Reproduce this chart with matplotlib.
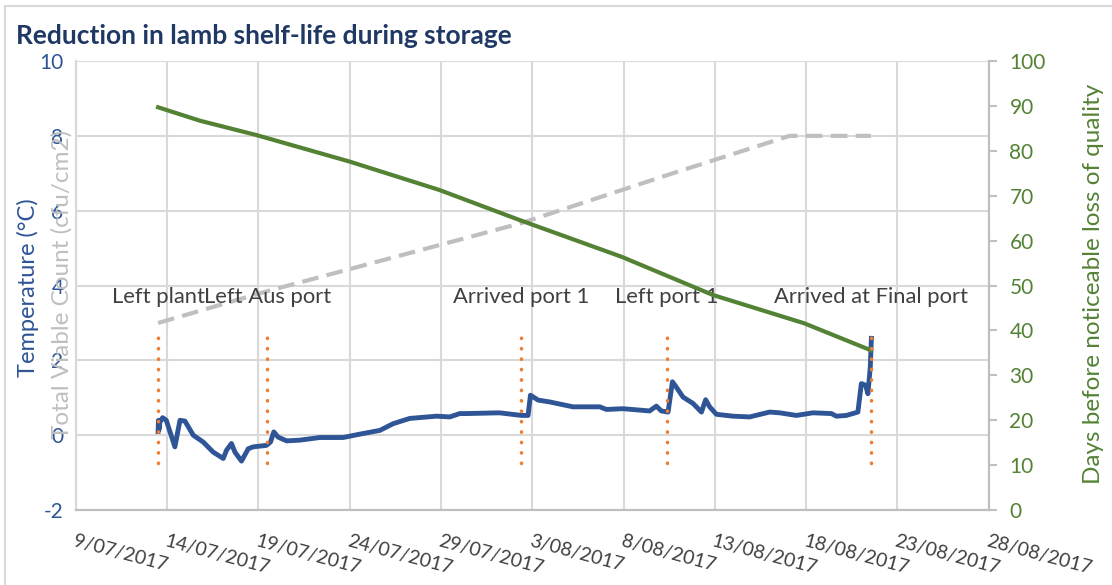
import datetime as dt

import matplotlib
matplotlib.use("Agg")
import matplotlib.pyplot as plt
from matplotlib import ticker
import matplotlib.dates as mdates
from matplotlib.lines import Line2D

START = dt.datetime(2017, 7, 9)

# temperature logger trace (days after 9/07/2017, degC)
temp_days = [4.50, 4.52, 4.55, 4.60, 4.75, 4.95, 5.42, 5.70, 5.97, 6.43,
             6.97, 7.52, 8.07, 8.25, 8.52, 8.71, 9.07, 9.44, 9.71, 10.44,
             10.66, 10.84, 11.08, 11.54, 12.27, 13.36, 14.64, 15.55, 16.65, 17.38,
             18.29, 19.75, 20.48, 21.03, 21.40, 23.20, 24.41, 24.77, 24.90, 25.32,
             25.96, 27.23, 28.70, 29.06, 29.97, 31.43, 31.80, 32.07, 32.44, 32.68,
             32.90, 33.26, 33.81, 34.27, 34.50, 34.72, 35.09, 36.00, 36.91, 38.00,
             38.55, 39.47, 40.38, 41.39, 41.66, 42.21, 42.84, 43.03, 43.26, 43.39,
             43.52, 43.58]
temp_vals = [0.10, 0.40, 0.15, 0.35, 0.47, 0.40, -0.31, 0.40, 0.38, 0.00,
             -0.18, -0.45, -0.62, -0.40, -0.22, -0.45, -0.69, -0.36, -0.31, -0.27,
             -0.18, 0.09, -0.05, -0.15, -0.13, -0.06, -0.06, 0.03, 0.13, 0.31,
             0.45, 0.51, 0.49, 0.58, 0.58, 0.60, 0.53, 0.53, 1.07, 0.94,
             0.89, 0.76, 0.76, 0.69, 0.71, 0.65, 0.78, 0.65, 0.62, 1.43,
             1.28, 1.02, 0.85, 0.62, 0.95, 0.76, 0.56, 0.51, 0.49, 0.62,
             0.60, 0.53, 0.60, 0.58, 0.51, 0.53, 0.62, 1.38, 1.34, 1.11,
             1.83, 2.59]

# total viable count (drawn against the left scale)
tvc_days = [4.50, 10.48, 24.41, 32.38, 39.10, 43.55]
tvc_vals = [3.00, 3.85, 5.67, 6.95, 8.00, 8.00]

# days before noticeable loss of quality (right scale)
shelf_days = [4.50, 6.80, 9.90, 15.0, 19.9, 24.3, 29.9, 34.9, 39.9, 43.55]
shelf_vals = [89.7, 86.7, 83.5, 77.6, 71.3, 64.6, 56.4, 47.9, 41.6, 35.6]

event_days = [4.50, 10.48, 24.41, 32.38, 43.58]
event_names = ["Left plant", "Left Aus port", "Arrived port 1", "Left port 1",
               "Arrived at Final port"]
event_low, event_high = -0.75, 2.85
tick_days = list(range(0, 51, 5))

BLUE = "#2F5597"
GREEN = "#548235"
GREY = "#BFBFBF"
ORANGE = "#ED7D31"
GRID = "#D9D9D9"
TEXT = "#404040"
FONT = "Lato"


def to_dates(days):
    return [START + dt.timedelta(days=d) for d in days]


def fmt_date(x, pos):
    d = mdates.num2date(x)
    return f"{d.day}/{d.month:02d}/{d.year}"


plt.rcParams["font.family"] = FONT
plt.rcParams["axes.unicode_minus"] = False

fig = plt.figure(figsize=(11.12, 5.85), dpi=100)
ax = fig.add_axes([0.0683, 0.128, 0.8207, 0.7677])
ax2 = ax.twinx()

# grid + axes
ax.set_xlim(START, START + dt.timedelta(days=50))
ax.set_ylim(-2, 10)
ax2.set_ylim(0, 100)
ax.set_xticks(to_dates(tick_days))
ax.xaxis.set_major_formatter(ticker.FuncFormatter(fmt_date))
ax.set_yticks(range(-2, 11, 2))
ax2.set_yticks(range(0, 101, 10))
ax.grid(True, color=GRID, linewidth=1.5, zorder=0)
ax.set_axisbelow(True)

for a in (ax, ax2):
    a.spines["top"].set_visible(False)
    a.spines["left"].set_color(GRID)
    a.spines["bottom"].set_color(GREY)
    a.spines["right"].set_color(GREY)
    for s in a.spines.values():
        s.set_linewidth(1.5)

ax.tick_params(axis="y", length=0, labelsize=15, labelcolor=BLUE, pad=9)
ax.tick_params(axis="x", length=0, labelsize=14, labelcolor=TEXT, pad=16)
ax2.tick_params(axis="y", length=6, width=1.5, color=GREY, labelsize=15,
                labelcolor=GREEN, pad=9)
for lab in ax.get_xticklabels():
    lab.set_rotation(-15)
    lab.set_ha("left")
    lab.set_va("top")
    lab.set_rotation_mode("anchor")

# series
ax.plot(to_dates(tvc_days), tvc_vals, color=GREY, lw=3, dashes=(4, 2),
        zorder=2)
ax.plot(to_dates(temp_days), temp_vals, color=BLUE, lw=3.5, zorder=3,
        solid_joinstyle="round")
ax2.plot(to_dates(shelf_days), shelf_vals, color=GREEN, lw=3, zorder=3)

for d in to_dates(event_days):
    ax2.plot([d, d], [event_low, event_high], transform=ax.transData,
             color=ORANGE, lw=2.5, linestyle=(0, (0.1, 2.9)),
             dash_capstyle="round", zorder=4)

for d, name in zip(to_dates(event_days), event_names):
    ax.text(d, 3.7, name, ha="center", va="center", fontsize=15.8, color=TEXT,
            zorder=5)

# labels
fig.text(0.025, 0.508, "Temperature (°C)", rotation=90, ha="center",
         va="center", fontsize=17, color=BLUE)
fig.text(0.056, 0.514, "Total Viable Count (cfu/cm2)", rotation=90,
         ha="center", va="center", fontsize=17.5, color=GREY)
fig.text(0.983, 0.514, "Days before noticeable loss of quality", rotation=90,
         ha="center", va="center", fontsize=17.5, color=GREEN)

fig.text(0.0144, 0.938, "Reduction in lamb shelf-life during storage",
         ha="left", va="center", fontsize=19, fontweight="bold",
         color="#1F3864")

# chart frame
fig.add_artist(Line2D([0.0045, 0.0045], [0.0, 0.99], color=GRID, lw=1.5,
                      transform=fig.transFigure))
fig.add_artist(Line2D([0.0045, 1.0], [0.99, 0.99], color=GRID, lw=1.5,
                      transform=fig.transFigure))

fig.savefig("out.png", dpi=100, facecolor="white")
